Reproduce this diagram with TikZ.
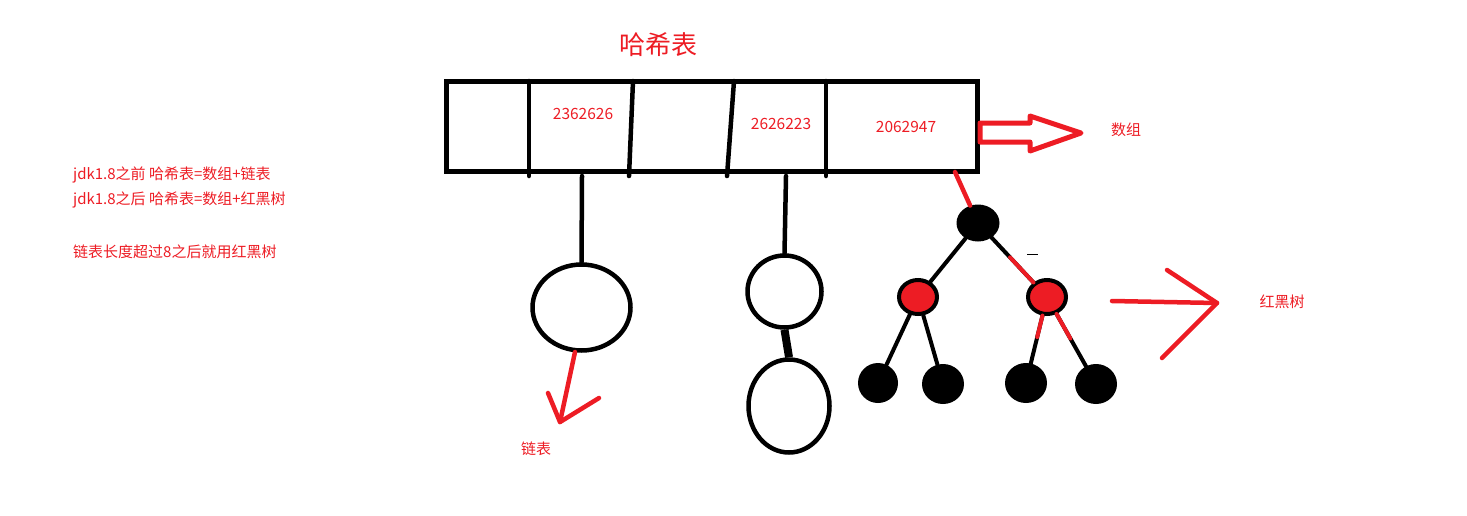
\documentclass[tikz,border=0pt]{standalone}
\usepackage{fontspec}
\setmainfont{Noto Sans CJK SC}
\usetikzlibrary{shapes.geometric}
\definecolor{pred}{HTML}{ED1C24}
\begin{document}
\begin{tikzpicture}[x=1pt,y=-1pt,
  blk/.style={line width=4.5pt, black, line cap=round},
  rl/.style={line width=4.5pt, pred, line cap=round, line join=round},
  lnode/.style={ellipse, draw, line width=4.5pt, inner sep=0pt},
  bnode/.style={ellipse, fill=black, inner sep=0pt},
  rnode/.style={ellipse, fill=pred, draw=black, line width=4pt, inner sep=0pt},
  txt/.style={text=pred, inner sep=0pt, font=\fontsize{15}{18}\selectfont},
  numtxt/.style={text=pred, inner sep=0pt, font=\fontsize{15.5}{18}\selectfont}]
\useasboundingbox (0,0) rectangle (1467,515);

% title
\node[text=pred, inner sep=0pt, font=\fontsize{26}{30}\selectfont] (title) at (658,45) {哈希表};

% array
\node[draw, line width=5pt, minimum width=531pt, minimum height=90pt, inner sep=0pt] (arr) at (711.5,126) {};
\draw[blk] (529,81) -- (529,176);
\draw[blk] (633,81) -- (629,176);
\draw[blk] (734,81) -- (727,176);
\draw[blk] (826,81) -- (826,176);
\node[numtxt] (n1) at (583,114) {2362626};
\node[numtxt] (n2) at (781,124) {2626223};
\node[numtxt] (n3) at (906,127) {2062947};

% left notes
\node[txt, anchor=west] (t1) at (73,175) {jdk1.8之前 哈希表=数组+链表};
\node[txt, anchor=west] (t2) at (73,200) {jdk1.8之后 哈希表=数组+红黑树};
\node[txt, anchor=west] (t3) at (73,252) {链表长度超过8之后就用红黑树};

% linked lists
\node[lnode, minimum width=98pt, minimum height=86pt] (c1) at (581.5,307.5) {};
\node[lnode, minimum width=74pt, minimum height=72pt] (c2) at (784.5,291.5) {};
\node[lnode, minimum width=81pt, minimum height=93pt] (c3) at (789,406) {};
\coordinate (a1) at (582,176);
\coordinate (a2) at (786,176);
\draw[blk] (a1) -- (c1.north);
\draw[blk] (a2) -- (c2.north);
\draw[line width=8pt] (c2.south) -- (c3.north);

% arrow to linked list label
\coordinate (r1s) at (575,352);
\coordinate (r1e) at (560,422);
\coordinate (r1a) at (548,393);
\coordinate (r1b) at (599,398);
\draw[rl] (r1s) -- (r1e);
\draw[rl] (r1a) -- (r1e) -- (r1b);
\node[txt] (ll) at (536,449) {链表};

% array arrow
\coordinate (ab) at (980,132.5);
\draw[pred, line width=5pt, line join=round] (980,123) -- (1030,123) -- (1030,116) -- (1081,133) -- (1030,151) -- (1030,142) -- (980,142) -- cycle;
\node[txt] (sz) at (1126,130) {数组};

% red-black tree
\node[bnode, minimum width=43pt, minimum height=37pt] (root) at (978,223) {};
\node[rnode, minimum width=38pt, minimum height=34pt] (rn1) at (918,297) {};
\node[rnode, minimum width=38pt, minimum height=34pt] (rn2) at (1047,297) {};
\node[bnode, minimum width=40pt, minimum height=40pt] (l1) at (878,383) {};
\node[bnode, minimum width=42pt, minimum height=40pt] (l2) at (943,384) {};
\node[bnode, minimum width=42pt, minimum height=40pt] (l3) at (1026,383) {};
\node[bnode, minimum width=42pt, minimum height=40pt] (l4) at (1096,384) {};

\coordinate (a3) at (955,172);
\draw[rl] (a3) -- (root);
\draw[blk, line width=4pt] (root) -- (rn1);
\draw[blk, line width=4pt] (rn1) -- (l1);
\draw[blk, line width=4pt] (rn1) -- (l2);
\draw[blk, line width=4pt] (root) -- (rn2);
\draw[blk, line width=4pt] (rn2) -- (l3);
\draw[blk, line width=4pt] (rn2) -- (l4);
\path (root) -- (rn2) coordinate[pos=0.44] (m1);
\path (rn2) -- (l3) coordinate[pos=0.45] (m2);
\path (rn2) -- (l4) coordinate[pos=0.47] (m3);
\draw[rl, line width=4pt] (m1) -- (rn2);
\draw[rl, line width=4pt] (rn2) -- (m2);
\draw[rl, line width=4pt] (rn2) -- (m3);
\coordinate (d1) at (1027,254);
\coordinate (d2) at (1038,254);
\draw[line width=1pt] (d1) -- (d2);

% tree arrow
\coordinate (r3s) at (1112,301);
\coordinate (r3e) at (1217,303);
\coordinate (r3a) at (1167,270);
\coordinate (r3b) at (1162,358);
\draw[rl] (r3s) -- (r3e);
\draw[rl] (r3a) -- (r3e) -- (r3b);
\node[txt] (hh) at (1282,302) {红黑树};
\end{tikzpicture}
\end{document}
